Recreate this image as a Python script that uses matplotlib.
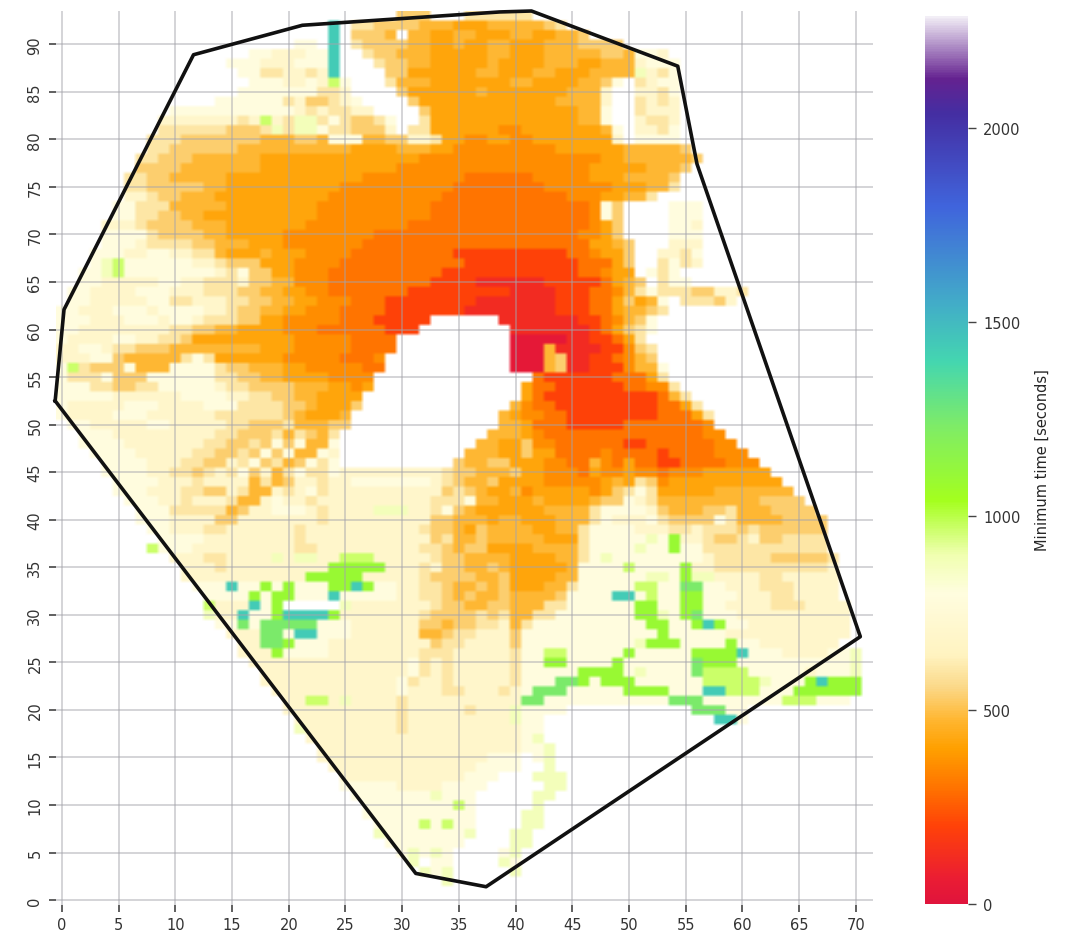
import numpy as np
import matplotlib
matplotlib.use("Agg")
import matplotlib.pyplot as plt
from matplotlib.colors import LinearSegmentedColormap, Normalize

W, H = 1068, 937
CODE_VALUES = {'0': 40, '1': 120, '2': 200, '3': 300, '4': 360, '5': 420, '6': 475, '7': 535, '8': 600,
               '9': 700, 'a': 800, 'k': 880, 'l': 970, 'g': 1100, 'h': 1240, 't': 1440, '.': np.nan}

TOP_ROW = 93
# each entry: one grid row, from y=93 downward; "x:c" = from column x on the value code c
ROWS = [
"30:7 33:. 36:8 42:.",
"24:t 25:. 26:8 28:7 32:6 35:5 38:6 41:6 43:7 44:8 45:.",
"24:t 25:. 26:7 29:6 30:. 31:6 33:5 35:6 37:5 40:6 42:5 44:6 46:7 47:.",
"21:a 23:. 24:t 25:. 26:8 27:7 31:6 33:5 35:6 36:5 38:6 40:5 43:6 46:7 49:7 50:.",
"17:a 19:9 22:a 24:t 25:. 27:8 28:7 30:6 32:6 33:5 36:5 38:6 40:5 43:6 46:6 48:7 50:6 51:a 53:9 54:.",
"15:a 18:9 21:a 24:t 25:. 28:8 29:7 31:6 33:5 38:6 39:5 43:6 46:5 48:6 50:6 51:9 52:a 55:.",
"16:a 18:8 20:9 22:8 23:9 24:t 25:. 29:7 31:5 37:6 39:5 42:6 44:5 47:6 50:6 51:k 52:9 53:8 54:a 55:.",
"17:a 20:9 22:a 23:9 24:l 25:a 26:. 29:8 30:6 33:5 38:5 40:6 42:5 46:6 48:7 49:a 50:. 51:8 52:9 53:a 55:.",
"16:a 20:a 23:8 24:8 25:9 26:. 30:7 31:5 35:5 37:6 38:5 42:5 45:6 47:6 48:9 49:. 51:9 53:8 54:a 55:.",
"14:a 17:a 20:8 21:9 22:7 24:8 25:9 26:a 27:. 31:7 32:5 36:5 42:5 44:6 47:6 48:9 49:. 51:8 52:9 53:8 54:9 55:.",
"10:a 13:a 17:a 20:a 21:9 22:8 23:9 24:8 26:9 28:. 32:7 33:5 38:5 44:5 46:6 48:a 49:. 51:8 52:9 55:.",
"9:9 12:9 16:8 17:9 18:l 19:9 20:8 21:k 23:8 24:a 25:8 26:7 28:8 29:a 30:. 32:8 33:5 42:5 46:6 48:a 49:. 51:9 52:8 54:9 55:.",
"9:8 12:8 15:7 18:8 19:k 20:8 21:k 23:a 24:8 26:7 29:9 30:. 31:8 33:5 39:4 41:5 46:5 48:6 49:a 50:. 51:9 53:8 54:a 55:.",
"8:8 11:7 14:7 18:6 21:7 23:6 24:a 27:6 29:7 31:9 33:8 34:5 36:4 38:5 40:4 42:5 47:5 49:9 50:. 51:a 55:.",
"8:8 10:7 13:7 16:6 19:6 22:6 24:6 26:5 30:6 32:6 33:5 35:4 38:4 41:4 44:5 47:5 50:6 55:7 56:.",
"7:8 9:7 12:6 15:6 18:5 22:5 26:5 30:5 32:4 36:4 41:4 45:4 48:5 50:6 53:6 56:7 57:.",
"7:7 10:7 11:6 14:6 18:5 21:5 26:5 30:4 36:4 41:4 44:4 47:5 50:5 52:6 55:7 56:.",
"6:8 8:7 10:6 13:6 15:5 19:5 24:5 27:4 32:4 36:3 40:3 42:4 47:5 50:6 54:7 55:.",
"6:8 8:7 10:7 13:6 15:5 22:5 25:4 32:4 35:3 41:3 43:4 47:4 49:5 52:6 54:8 55:.",
"6:9 8:8 9:7 11:6 14:5 16:5 22:5 24:4 32:4 34:3 44:3 45:4 48:5 50:6 52:8 53:.",
"5:a 7:8 10:6 13:6 15:5 20:5 23:4 32:4 33:3 46:3 47:4 48:a 49:7 50:. 54:a 57:.",
"5:a 7:8 9:7 11:6 13:5 20:5 23:4 30:4 33:3 38:3 40:3 47:4 48:a 49:7 50:. 54:a 57:.",
"4:9 7:8 8:7 10:7 12:6 15:5 19:5 22:4 28:4 31:3 36:3 47:4 48:5 49:7 50:. 54:a 56:9 57:.",
"4:a 8:8 9:7 11:7 13:6 15:5 18:5 20:4 26:4 28:3 38:3 44:3 46:4 48:5 49:7 50:. 54:a 57:.",
"4:a 7:9 8:8 10:8 12:7 14:6 17:5 18:5 20:4 27:3 36:3 38:3 46:3 47:5 49:6 50:7 51:. 54:9 57:.",
"3:a 6:9 8:a 10:9 12:8 14:6 15:5 18:6 19:5 22:4 26:3 35:2 42:2 45:3 47:4 48:5 50:7 51:. 53:9 55:8 56:a 57:.",
"3:a 4:k 5:l 6:a 8:a 10:a 12:9 14:8 15:7 18:5 21:4 25:3 34:3 36:2 44:2 46:3 47:3 49:5 50:7 51:. 53:8 54:a 55:8 56:9 57:.",
"2:a 4:k 5:l 6:a 9:a 12:a 14:9 15:8 16:a 17:7 19:5 21:4 24:3 32:3 34:2 46:3 48:4 49:5 50:5 51:. 52:a 53:8 54:a 55:.",
"2:a 4:9 6:9 9:a 11:9 13:8 16:9 17:7 19:6 21:4 24:3 31:3 33:2 37:1 43:2 46:2 48:3 49:5 50:6 51:7 52:. 53:8 54:a 56:.",
"1:a 3:9 7:a 10:9 13:8 15:8 16:7 18:6 20:5 22:4 24:3 29:3 31:2 37:2 40:1 44:2 47:3 49:4 50:6 51:8 52:a 53:8 55:8 56:7 58:9 60:8 61:.",
"1:a 3:9 6:9 8:a 10:8 12:9 15:8 17:7 19:6 21:5 23:4 26:3 29:2 33:2 37:1 41:1 44:2 47:3 49:5 50:7 51:5 52:6 53:a 54:. 55:8 58:7 59:9 60:.",
"0:a 2:9 5:a 8:9 9:a 12:a 13:9 15:8 16:7 18:6 20:5 22:4 25:3 29:2 33:2 36:1 40:1 44:2 47:3 49:5 50:6 52:7 53:8 54:.",
"0:a 3:9 6:a 9:9 10:a 12:9 13:8 16:7 18:5 20:4 25:3 28:2 33:. 39:1 44:1 46:2 48:3 49:4 50:6 51:7 52:a 53:.",
"0:a 2:9 5:9 8:9 10:8 12:7 14:6 16:5 20:4 23:3 27:3 29:2 32:. 40:1 45:1 47:2 48:3 49:5 50:7 51:8 52:a 53:.",
"0:a 1:9 5:a 7:9 9:8 11:7 12:5 18:5 21:4 24:4 26:3 28:3 30:. 40:0 42:0 45:1 47:2 49:3 50:5 51:8 52:.",
"0:9 2:a 4:9 5:8 7:7 8:7 10:6 14:6 18:5 21:4 24:4 26:3 28:3 30:. 40:0 43:6 44:1 46:1 48:2 50:4 51:7 52:8 53:.",
"0:9 3:a 5:7 6:6 10:6 11:8 12:a 13:8 14:5 18:5 20:4 23:4 25:3 28:4 29:. 40:0 43:6 44:7 45:1 47:2 49:3 50:4 51:6 52:7 53:.",
"0:a 1:l 2:8 3:7 5:7 6:a 7:6 9:6 10:a 13:a 14:8 15:7 17:6 20:5 22:4 25:4 27:3 29:. 40:0 43:6 44:7 45:1 47:2 49:2 50:4 51:6 53:a 54:.",
"0:a 1:8 3:8 4:a 5:7 6:7 8:a 12:a 14:8 16:7 18:6 20:5 22:5 24:4 27:4 28:. 42:3 43:2 45:2 49:3 50:3 52:5 53:8 54:.",
"0:a 3:8 5:7 7:8 9:a 14:9 15:8 17:7 19:7 21:6 24:5 26:4 27:5 28:. 41:5 42:3 44:2 47:2 50:3 52:4 54:8 55:.",
"0:a 3:a 5:9 8:9 11:a 15:9 17:8 19:7 21:6 23:5 25:5 27:. 41:5 42:3 43:2 46:2 50:2 53:3 54:6 55:8 56:.",
"0:a 1:9 6:a 9:9 13:a 16:8 18:8 20:7 22:6 23:5 26:7 27:. 40:6 41:4 42:3 44:2 48:2 53:3 55:5 56:8 57:.",
"0:a 1:9 5:a 8:9 12:9 14:8 15:8 17:8 19:8 20:7 21:6 22:5 25:6 26:. 39:6 40:5 41:4 43:3 45:2 50:2 53:3 56:5 57:8 58:.",
"1:a 3:9 6:9 8:a 10:9 13:9 15:8 17:7 19:7 20:8 21:6 22:6 24:7 25:7 26:. 39:6 40:6 41:5 42:3 45:2 50:3 54:3 57:4 58:.",
"2:a 5:9 9:9 12:9 14:8 16:7 18:7 19:8 20:6 21:8 22:7 23:6 24:8 25:. 38:6 40:6 41:5 42:4 43:3 47:3 50:3 56:3 57:4 59:.",
"2:a 6:9 11:9 13:8 15:7 17:8 18:7 19:a 20:7 21:a 22:6 24:a 25:. 37:6 39:5 41:7 42:4 44:3 47:3 50:2 52:3 58:4 60:.",
"3:a 7:9 11:9 12:8 13:8 14:7 16:8 17:7 18:a 19:7 20:a 21:6 23:a 24:9 25:. 36:6 38:6 39:5 41:7 42:5 44:3 48:4 49:3 50:3 53:2 54:3 58:4 61:.",
"4:a 8:9 10:9 11:8 13:7 15:9 16:8 17:a 18:7 19:8 20:6 21:7 22:a 23:8 24:a 25:. 35:7 36:6 38:7 40:5 42:5 43:4 45:3 47:6 48:4 49:3 50:5 51:3 53:2 55:3 59:4 62:.",
"4:a 8:9 10:8 12:7 13:8 14:9 15:8 16:a 17:7 18:9 19:6 20:8 21:a 22:8 24:a 25:9 34:8 35:7 37:6 39:6 40:7 41:5 43:4 46:3 47:5 48:4 50:5 51:4 53:3 54:4 57:5 60:5 63:.",
"5:a 9:9 12:8 13:9 16:9 17:6 18:8 19:6 20:7 21:9 23:8 24:9 26:a 33:9 34:8 35:7 36:6 38:7 39:5 41:5 43:4 47:4 48:5 49:6 50:5 51:8 52:7 53:4 54:5 58:5 60:5 64:.",
"5:a 8:9 11:8 13:7 15:9 16:8 17:6 19:9 20:8 21:9 22:a 23:8 24:9 33:9 34:7 35:8 36:7 37:6 38:5 40:6 41:4 42:5 46:5 47:4 48:5 49:7 50:8 51:a 52:8 53:5 55:5 58:6 61:6 65:.",
"6:a 9:9 11:8 12:9 15:8 16:6 18:9 19:a 20:9 22:8 23:9 33:8 34:8 36:a 37:6 38:6 39:5 42:6 43:5 45:5 46:5 47:6 48:7 49:7 50:a 51:9 52:8 53:6 55:6 59:6 62:7 66:.",
"7:a 10:8 11:8 13:8 15:6 16:7 17:9 19:a 22:9 23:8 24:9 28:k 31:9 33:8 34:a 35:7 36:6 37:5 40:5 43:6 46:6 47:8 48:a 50:a 52:9 53:7 54:6 57:7 59:8 60:6 63:7 67:.",
"7:a 10:9 14:7 16:9 20:9 23:8 24:9 28:9 30:9 33:7 35:6 36:6 38:5 39:6 41:5 44:6 47:8 48:a 49:9 52:a 53:8 54:7 56:7 58:a 59:8 60:6 64:7 68:.",
"8:a 10:9 13:8 15:9 21:8 22:9 28:9 31:9 32:8 33:7 35:6 36:5 37:7 38:6 39:6 42:5 44:6 46:8 47:a 51:9 54:8 56:9 57:8 60:7 61:8 62:7 68:.",
"9:a 13:9 16:9 21:8 22:9 30:9 33:7 34:8 35:6 37:7 38:6 41:6 43:5 46:8 47:a 52:k 53:a 54:g 55:9 57:8 58:7 59:7 60:8 61:9 62:7 64:8 68:.",
"8:l 9:a 12:9 14:9 18:9 21:8 23:9 30:9 32:8 34:7 35:6 36:7 38:5 42:6 46:8 47:a 51:k 52:a 54:g 55:a 57:8 59:8 62:8 65:8 68:.",
"10:9 13:8 15:9 19:k 20:9 21:k 23:9 25:l 28:9 31:9 33:8 34:7 36:6 40:5 44:6 46:8 47:a 48:k 49:a 53:a 57:9 58:8 60:8 63:7 68:8 69:.",
"11:9 14:8 15:9 24:g 29:9 30:9 32:8 33:9 34:7 36:6 38:7 39:6 40:5 45:6 46:a 50:l 51:a 55:g 56:9 58:8 62:8 64:8 68:9 69:.",
"11:9 19:9 22:g 27:9 29:9 31:9 32:8 33:7 35:7 37:6 39:7 40:5 44:6 46:a 48:a 52:k 54:a 55:g 56:k 58:9 62:8 64:9 69:.",
"12:a 15:t 16:a 18:g 19:a 20:g 21:a 24:g 26:t 27:g 28:a 30:9 32:8 34:7 35:6 37:7 38:6 39:7 40:5 43:6 45:8 46:a 51:l 53:a 55:h 57:a 59:9 62:8 65:9 69:.",
"13:a 17:g 18:a 19:g 21:a 24:t 25:a 30:9 32:8 34:7 35:6 36:7 37:6 39:7 40:6 44:7 45:a 49:t 51:a 52:l 53:a 55:g 57:a 60:9 63:8 65:9 69:.",
"13:l 14:9 17:t 18:a 19:g 20:. 25:k 26:9 31:9 33:8 34:7 36:6 38:7 40:6 43:8 45:a 49:a 51:g 53:a 55:g 57:a 59:9 63:8 66:9 70:.",
"13:k 14:9 16:t 17:a 19:g 20:t 24:g 25:9 31:9 32:8 33:7 35:7 37:8 38:7 39:8 40:6 42:8 44:a 50:a 51:g 53:k 54:a 55:g 56:h 57:a 60:9 66:9 70:.",
"14:a 16:h 17:a 18:h 20:h 23:a 26:9 31:9 32:7 34:6 35:7 37:8 39:9 40:6 41:8 42:a 51:a 52:g 54:a 56:g 57:t 58:g 59:a 61:9 70:.",
"15:9 18:h 20:a 21:t 23:a 26:9 30:9 32:6 34:7 35:8 37:9 40:7 41:a 52:a 53:g 54:a 56:a 59:9 70:.",
"16:9 18:h 20:g 21:a 24:9 31:9 33:7 34:8 36:9 40:7 41:a 51:k 52:g 55:a 59:g 60:a 62:9 69:.",
"16:9 19:g 20:a 24:9 31:9 32:8 33:8 35:9 40:8 41:a 43:l 45:a 50:g 51:a 56:g 60:t 61:a 64:9 68:a 70:k 71:.",
"17:9 19:9 31:a 32:8 33:9 34:8 35:9 40:8 41:a 43:g 45:a 49:g 50:a 56:h 57:g 60:a 67:a 70:k 71:.",
"18:9 31:a 32:8 33:9 34:8 35:9 40:8 41:a 46:g 50:a 51:k 52:a 56:h 57:l 61:a 66:9 67:a 70:k 71:.",
"18:9 30:a 31:8 32:9 34:8 35:9 40:8 41:a 44:h 46:g 47:a 48:g 50:g 51:a 57:l 62:k 63:a 66:g 67:t 68:g 71:.",
"19:9 30:a 31:9 34:8 36:9 39:8 40:9 41:a 42:h 45:a 50:g 54:a 57:t 59:l 62:a 65:g 71:.",
"20:9 22:l 24:9 25:k 26:9 30:8 31:9 34:9 41:h 43:a 54:h 57:a 59:a 64:l 67:a 70:.",
"20:9 30:8 31:9 36:8 37:9 40:k 41:a 45:. 56:h 59:a 61:.",
"21:9 30:8 31:9 40:k 41:a 43:. 58:t 60:a 61:.",
"21:k 22:9 30:8 31:9 41:a 43:.",
"22:9 41:a 42:k 43:.",
"23:9 41:a 43:k 44:.",
"23:9 38:a 41:. 42:a 43:k 44:.",
"24:9 37:a 41:. 43:k 44:.",
"25:9 36:a 39:. 42:k 44:k 45:.",
"25:a 30:9 34:a 38:. 43:k 45:.",
"26:a 33:k 34:a 37:. 42:k 44:.",
"27:a 35:l 36:a 37:. 42:k 43:.",
"27:a 37:. 41:k 43:.",
"28:a 32:l 33:a 34:l 35:a 37:. 41:k 43:.",
"28:k 29:a 36:k 37:. 40:k 42:.",
"29:a 36:. 40:k 42:.",
"30:a 31:k 32:a 33:k 34:a 35:. 39:a 40:k 41:.",
"31:k 32:. 33:a 35:. 39:k 40:a 41:.",
"32:k 33:a 34:k 35:. 40:k 41:.",
"34:k 35:.",
]

hull_x = [-0.6, 0.18, 11.6, 21.2, 38.6, 41.4, 54.3, 56.0, 70.4, 37.4, 31.2, -0.6]
hull_y = [52.5, 62.1, 88.9, 92.0, 93.4, 93.5, 87.7, 77.4, 27.7, 1.4, 2.8, 52.5]

x_ticks = list(range(0, 71, 5))
y_ticks = list(range(0, 91, 5))
cbar_ticks = [0, 500, 1000, 1500, 2000]
cbar_label = "Minimum time [seconds]"

VMAX = 2290
cmap_values = [0, 60, 200, 300, 400, 470, 560, 640, 800, 900, 1040, 1230, 1400, 1550, 1800, 2040, 2130, 2290]
cmap_colors = ["#e0143c", "#ea1c34", "#ff4208", "#ff7400", "#ffa000", "#ffb52e", "#fbd98a", "#fff3c0",
               "#fffddf", "#f0ffb0", "#a4ff1e", "#7fec66", "#44d6b0", "#42acc8", "#4064dc", "#442ea2",
               "#642290", "#f2eef6"]

grid = np.full((TOP_ROW + 1, 72), np.nan)
for k, row in enumerate(ROWS):
    y = TOP_ROW - k
    segs = [s.split(':') for s in row.split()]
    for i, (start, code) in enumerate(segs):
        end = int(segs[i + 1][0]) if i + 1 < len(segs) else int(start) + 1
        grid[y, int(start):end] = CODE_VALUES[code]

cmap = LinearSegmentedColormap.from_list(
    "time", [(v / VMAX, c) for v, c in zip(cmap_values, cmap_colors)], N=512)
cmap.set_bad("white")
norm = Normalize(0, VMAX)


def box(l, t, r, b):
    return [l / W, 1 - b / H, (r - l) / W, (b - t) / H]


fig = plt.figure(figsize=(W / 100, H / 100), dpi=100, facecolor="white")
ax = fig.add_axes(box(56.3, 12, 872.8, 905.8))
# every cell repeated so that the smoothing softens the cell edges only
fine = np.repeat(np.repeat(grid, 3, axis=0), 3, axis=1)
im = ax.imshow(fine, origin="lower", cmap=cmap, norm=norm, aspect="auto",
               extent=(-0.5, 71.5, -0.5, 93.5), interpolation="bilinear", interpolation_stage="rgba")
for s in ax.spines.values():
    s.set_visible(False)
ax.set_xticks(x_ticks)
ax.set_yticks(y_ticks)
ax.tick_params(axis="x", length=5, width=1.2, color="#444444", labelcolor="#333333", labelsize=10.5, pad=4)
ax.tick_params(axis="y", length=5, width=1.2, color="#444444", labelcolor="#333333", labelsize=10.5, pad=5)
for t in ax.get_yticklabels():
    t.set_rotation(90)
    t.set_va("center")
ax.grid(True, color="#a4a4ac", alpha=0.55, lw=1.2)
ax.set_axisbelow(False)
ax.plot(hull_x, hull_y, color="#111111", lw=2.6, solid_joinstyle="round", zorder=5, clip_on=False)
ax.set_xlim(-0.5, 71.5)
ax.set_ylim(-0.5, 93.5)

cax = fig.add_axes(box(925, 17, 968, 905))
cb = fig.colorbar(im, cax=cax)
cb.outline.set_visible(False)
cb.set_ticks(cbar_ticks)
cb.ax.tick_params(length=6, width=1, color="#444444", labelcolor="#333333", labelsize=10.5, pad=5)
fig.text(1042 / W, 1 - 460 / H, cbar_label, rotation=90, ha="center", va="center",
         fontsize=10.5, color="#262626")
fig.savefig("out.png", dpi=100, facecolor="white")
